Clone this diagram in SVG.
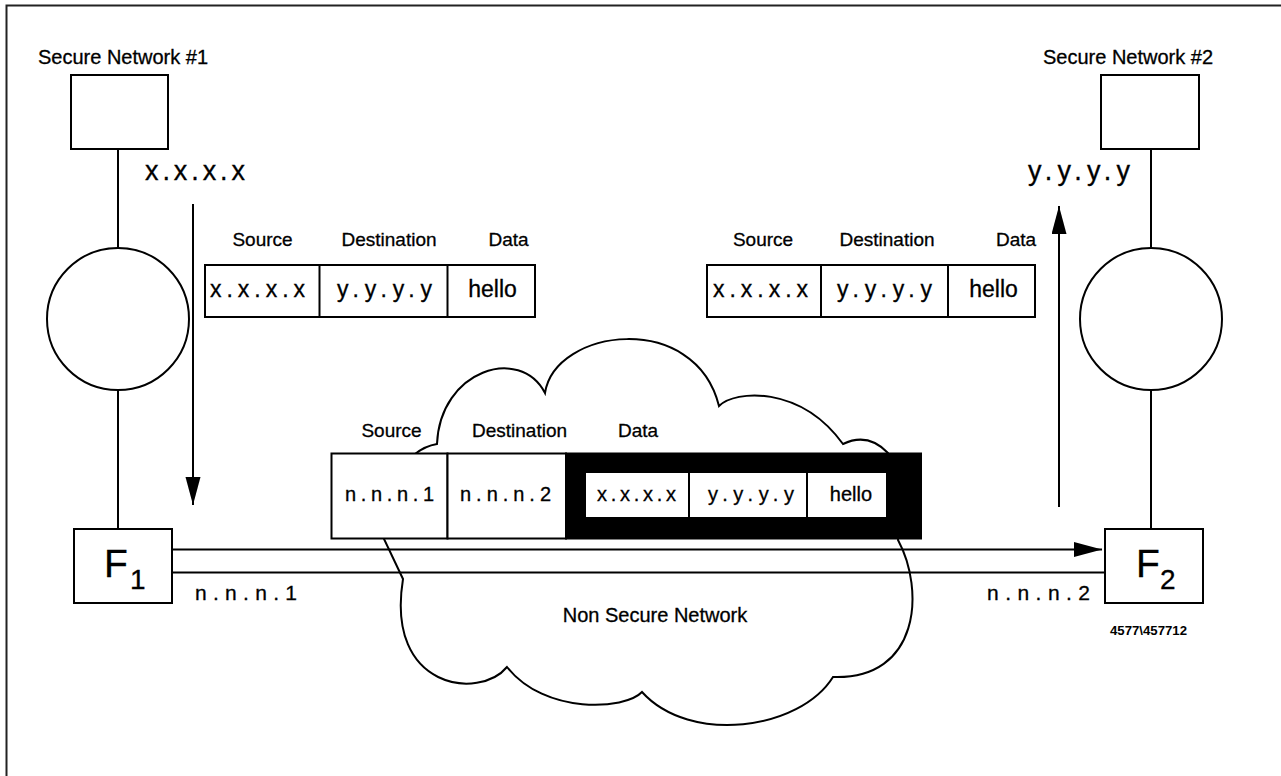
<svg xmlns="http://www.w3.org/2000/svg" width="1281" height="776" viewBox="0 0 1281 776">
<defs>
<style>
text{font-family:"Liberation Sans",Arial,Helvetica,sans-serif;fill:#000;stroke:#000;stroke-width:0.3}
.box{fill:#fff;stroke:#000;stroke-width:2}
.ln{fill:none;stroke:#000;stroke-width:2}
.lbl{font-size:19px;text-anchor:middle}
.big{font-size:27px}
.cell{font-size:23px}
.ccell{font-size:20px}
.addr{font-size:21px}
.net{font-size:20px}
</style>
<marker id="ah" markerUnits="userSpaceOnUse" markerWidth="29" markerHeight="16" refX="28" refY="7.5" orient="auto">
<path d="M0,0 L28,7.5 L0,15 z" fill="#000"/>
</marker>
</defs>
<rect width="1281" height="776" fill="#fff"/>
<rect x="6.5" y="5.5" width="1300" height="800" fill="none" stroke="#222" stroke-width="2"/>

<g id="cloud">
<path class="ln" stroke-width="1.8" d="M415,454 Q425,446 437,444 C440,370 520,345 545,393 C555,328 695,310 719,406 C735,390 800,385 843,444 Q868,432 888,453 C900,470 900,520 898,540 C925,590 920,680 833,677 C800,730 690,745 642,692 C625,710 545,715 507,667 C480,700 385,690 403,579 L384,539 Z" style="fill:#fff"/>
<text class="net" x="655" y="622" text-anchor="middle">Non Secure Network</text>
</g>

<g id="connectors">
<line class="ln" x1="118" y1="149" x2="118" y2="248"/>
<line class="ln" x1="118" y1="390" x2="118" y2="529"/>
<line class="ln" x1="1151" y1="149" x2="1151" y2="248"/>
<line class="ln" x1="1151" y1="390" x2="1151" y2="529"/>
<line class="ln" x1="193" y1="204" x2="193" y2="505" marker-end="url(#ah)"/>
<line class="ln" x1="1059" y1="507" x2="1059" y2="206" marker-end="url(#ah)"/>
<line class="ln" x1="172" y1="549.5" x2="1102" y2="549.5" marker-end="url(#ah)"/>
<line class="ln" x1="172" y1="572.5" x2="1105" y2="572.5"/>
</g>

<g id="secure-net-1">
<text x="38" y="64" style="font-size:20px">Secure Network #1</text>
<rect class="box" x="71" y="75" width="97" height="74"/>
<circle class="ln" cx="118" cy="319" r="71"/>
<text class="big" x="145" y="180" textLength="100">x.x.x.x</text>
</g>

<g id="secure-net-2">
<text x="1043" y="64" style="font-size:20px">Secure Network #2</text>
<rect class="box" x="1101" y="75" width="98" height="74"/>
<circle class="ln" cx="1151" cy="319" r="71"/>
<text class="big" x="1028" y="180" textLength="102">y.y.y.y</text>
</g>

<g id="f1">
<rect class="box" x="74" y="529" width="98" height="74"/>
<text x="104" y="577" style="font-size:39px">F</text>
<text x="130" y="589" style="font-size:28px">1</text>
<text class="addr" x="195" y="600" textLength="102">n.n.n.1</text>
</g>

<g id="f2">
<rect class="box" x="1105" y="529" width="98" height="74"/>
<text x="1136" y="577" style="font-size:39px">F</text>
<text x="1160" y="589" style="font-size:28px">2</text>
<text class="addr" x="987" y="600" textLength="103">n.n.n.2</text>
<text x="1110" y="635" textLength="77" lengthAdjust="spacingAndGlyphs" style="font-size:12px;font-weight:bold;stroke-width:0">4577\457712</text>
</g>

<g id="packet-left">
<text class="lbl" x="262.5" y="246">Source</text>
<text class="lbl" x="389" y="246">Destination</text>
<text class="lbl" x="508.5" y="246">Data</text>
<rect class="box" x="205" y="265" width="330" height="52"/>
<line class="ln" x1="319.5" y1="265" x2="319.5" y2="317"/>
<line class="ln" x1="447.5" y1="265" x2="447.5" y2="317"/>
<text class="cell" x="210" y="297" textLength="95">x.x.x.x</text>
<text class="cell" x="337" y="297" textLength="95">y.y.y.y</text>
<text class="cell" x="492.5" y="297" text-anchor="middle">hello</text>
</g>

<g id="packet-right">
<text class="lbl" x="763" y="246">Source</text>
<text class="lbl" x="887" y="246">Destination</text>
<text class="lbl" x="1016" y="246">Data</text>
<rect class="box" x="707" y="265" width="328" height="52"/>
<line class="ln" x1="821" y1="265" x2="821" y2="317"/>
<line class="ln" x1="948" y1="265" x2="948" y2="317"/>
<text class="cell" x="713" y="297" textLength="95">x.x.x.x</text>
<text class="cell" x="837" y="297" textLength="95">y.y.y.y</text>
<text class="cell" x="993.5" y="297" text-anchor="middle">hello</text>
</g>

<g id="packet-center">
<text class="lbl" x="391.5" y="437">Source</text>
<text class="lbl" x="519.5" y="437">Destination</text>
<text class="lbl" x="638" y="437">Data</text>
<rect x="566" y="453.5" width="355" height="85" fill="#000" stroke="#000" stroke-width="2"/>
<rect class="box" x="331.5" y="453.5" width="116" height="85"/>
<rect class="box" x="447.5" y="453.5" width="118.5" height="85"/>
<rect class="box" x="585" y="472" width="302" height="46"/>
<line class="ln" x1="689" y1="472" x2="689" y2="518"/>
<line class="ln" x1="807" y1="472" x2="807" y2="518"/>
<text class="ccell" x="345" y="501" textLength="89">n.n.n.1</text>
<text class="ccell" x="460" y="501" textLength="91">n.n.n.2</text>
<text class="ccell" x="597" y="501" textLength="79">x.x.x.x</text>
<text class="ccell" x="708" y="501" textLength="86">y.y.y.y</text>
<text class="ccell" x="851" y="501" text-anchor="middle">hello</text>
</g>
</svg>
